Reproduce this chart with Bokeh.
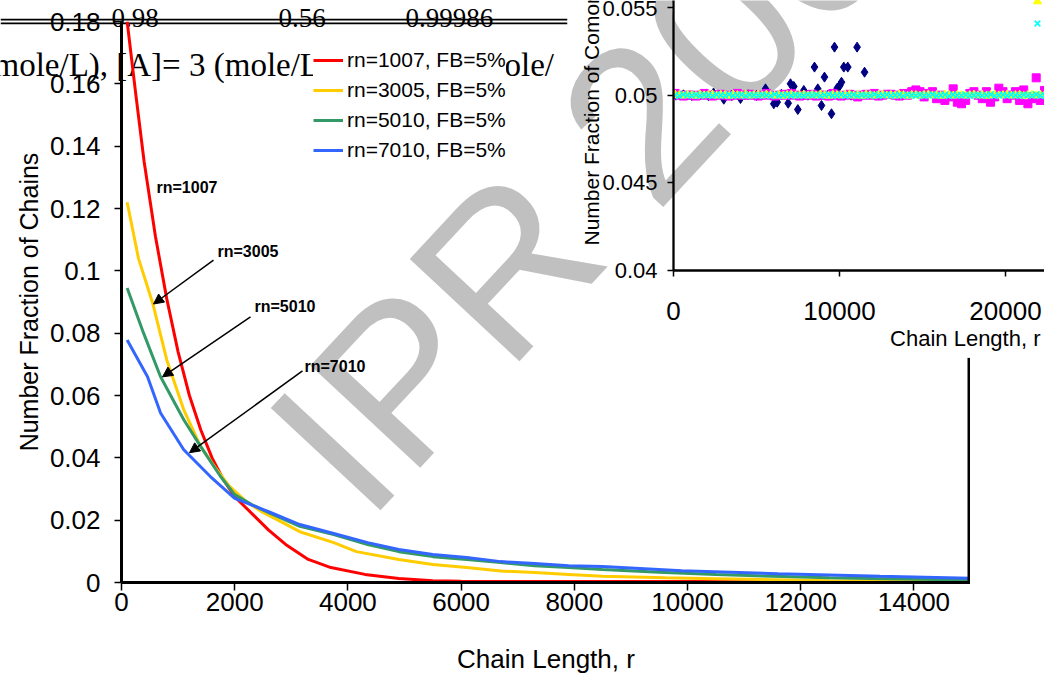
import math
from bokeh.plotting import figure
from bokeh.models import (Range1d, FixedTicker, PrintfTickFormatter, Label, Arrow,
                          NormalHead, Legend, LegendItem, BoxAnnotation)
from bokeh.layouts import column
from bokeh.embed import file_html
from bokeh.resources import INLINE

# ---------------- main chart data ----------------
red_x = [100, 250, 400, 600, 800, 1000, 1200, 1400, 1600, 1800, 2000, 2300, 2600, 2900,
         3300, 3700, 4300, 4900, 5500, 6000, 7000, 8000, 10000, 12000, 15000]
red_y = [0.180, 0.157, 0.135, 0.111, 0.091, 0.074, 0.060, 0.049, 0.040, 0.033, 0.0275,
         0.0222, 0.0168, 0.0122, 0.0074, 0.0048, 0.0026, 0.0013, 0.0006, 0.0004, 0.0003,
         0.0003, 0.0003, 0.0002, 0.0002]

yel_x = [100, 300, 550, 800, 1100, 1400, 1650, 1900, 2200, 2500, 2850, 3150, 3750, 4150,
         4900, 5500, 6100, 6700, 7300, 7900, 8500, 9600, 10500, 11500, 12500, 13500, 15000]
yel_y = [0.122, 0.104, 0.0897, 0.0714, 0.0554, 0.0436, 0.037, 0.031, 0.026, 0.0225,
         0.0192, 0.0163, 0.0128, 0.0099, 0.0074, 0.0058, 0.0048, 0.0037, 0.0032, 0.0026,
         0.0020, 0.0015, 0.0012, 0.0009, 0.0006, 0.0005, 0.0004]

grn_x = [100, 390, 690, 1100, 1400, 1750, 2000, 2300, 2600, 3150, 3750, 4350, 4900, 5500,
         6100, 6700, 7300, 7900, 8500, 9500, 10500, 11500, 12500, 13500, 15000]
grn_y = [0.0945, 0.080, 0.066, 0.0522, 0.0436, 0.034, 0.0282, 0.0250, 0.0224, 0.018,
         0.0154, 0.0122, 0.0099, 0.0083, 0.0074, 0.0064, 0.0054, 0.0048, 0.0042, 0.0033,
         0.0026, 0.0020, 0.0015, 0.0012, 0.0008]

blu_x = [100, 460, 690, 1100, 1570, 2000, 2600, 3150, 3750, 4350, 4900, 5500, 6100, 6700,
         7300, 7900, 8500, 9900, 11600, 13400, 15000]
blu_y = [0.0778, 0.066, 0.0544, 0.0426, 0.034, 0.027, 0.0227, 0.0186, 0.0157, 0.0128,
         0.0106, 0.009, 0.008, 0.0067, 0.0061, 0.0054, 0.0051, 0.0038, 0.0028, 0.0020, 0.0014]

series_labels = ["rn=1007, FB=5%", "rn=3005, FB=5%", "rn=5010, FB=5%", "rn=7010, FB=5%"]
x_ticks = [0, 2000, 4000, 6000, 8000, 10000, 12000, 14000]
y_ticks = [0, 0.02, 0.04, 0.06, 0.08, 0.1, 0.12, 0.14, 0.16, 0.18]

# ---------------- inset data ----------------
navy_x = [150, 600, 1100, 1600, 2100, 2410, 3030, 3500, 4036, 4500, 5000, 5542, 6042, 6247,
          6500, 6908, 7048, 7247, 7490, 7850, 8100, 8494, 8693, 8916, 9096, 9300, 9518, 9699,
          9861, 10020, 10120, 10260, 10500, 10700, 11060, 11510]
navy_y = [0.0500, 0.05002, 0.04998, 0.05001, 0.04997, 0.05012, 0.04977, 0.04998, 0.04981,
          0.05002, 0.04998, 0.05036, 0.04951, 0.0496, 0.05005, 0.04954, 0.05065, 0.0505,
          0.04918, 0.05027, 0.0500, 0.0516, 0.05036, 0.04941, 0.05103, 0.0500, 0.04894,
          0.05274, 0.0504, 0.05055, 0.05074, 0.0516, 0.0516, 0.0500, 0.05274, 0.05131]

band_x = list(range(100, 22400, 250))
mag_y = [0.0501, 0.0500, 0.04995, 0.0500, 0.0500, 0.04995, 0.0500, 0.0501, 0.0500, 0.04995,
         0.0500, 0.05005, 0.0500, 0.04995, 0.0500, 0.0501, 0.0500, 0.0500, 0.05005, 0.0500,
         0.04995, 0.0500, 0.0501, 0.0500, 0.04995, 0.0500, 0.05005, 0.0500, 0.0501, 0.0500,
         0.04995, 0.0500, 0.0500, 0.05005, 0.04995, 0.0500, 0.0500, 0.04995, 0.0501, 0.0500,
         0.04995, 0.0500, 0.05005, 0.0500, 0.0499, 0.0500, 0.05005, 0.0500, 0.0501, 0.04995,
         0.0500, 0.05005, 0.05005, 0.0500, 0.04995, 0.0501, 0.0500, 0.0502, 0.0503, 0.0502,
         0.0499, 0.0501, 0.0502, 0.0498, 0.0500, 0.0497, 0.0499, 0.05036, 0.0496, 0.04951,
         0.0497, 0.0501, 0.0502, 0.0500, 0.0498, 0.0502, 0.0496, 0.0499, 0.0504, 0.0502,
         0.0498, 0.0500, 0.0502, 0.0497, 0.0503, 0.04951, 0.0498, 0.05099, 0.0497, 0.05027]
yel_in_y = [0.05003, 0.05, 0.04997, 0.05002, 0.05, 0.04996, 0.05003, 0.04999, 0.05001, 0.05004,
            0.04997, 0.05002, 0.05, 0.04996, 0.05003, 0.05, 0.04998, 0.05004, 0.04997, 0.05,
            0.05002, 0.04998, 0.05003, 0.05, 0.04997, 0.05002, 0.04996, 0.05, 0.05004, 0.04998,
            0.05, 0.05003, 0.04997, 0.05001, 0.04998, 0.05004, 0.05, 0.04996, 0.05002, 0.05,
            0.04998, 0.05002, 0.05004, 0.04997, 0.05, 0.04996, 0.05003, 0.05, 0.04997, 0.05002,
            0.05003, 0.04998, 0.05, 0.04997, 0.05004, 0.05, 0.04996, 0.05002, 0.05, 0.04997,
            0.05002, 0.05004, 0.04998, 0.05, 0.04996, 0.05003, 0.05, 0.04997, 0.05002, 0.05,
            0.04997, 0.05, 0.05003, 0.04998, 0.05002, 0.04996, 0.05, 0.05003, 0.04998, 0.05,
            0.05003, 0.04997, 0.05, 0.05002, 0.04996, 0.05, 0.05003, 0.04998, 0.05002, 0.05]
cyan_y = [0.05, 0.04996, 0.05004, 0.05, 0.04998, 0.05003, 0.04997, 0.05002, 0.05, 0.04996,
          0.05003, 0.05, 0.04998, 0.05004, 0.04997, 0.05, 0.05002, 0.04996, 0.05003, 0.05,
          0.04998, 0.05002, 0.05, 0.04996, 0.05004, 0.04998, 0.05, 0.05003, 0.04997, 0.05001,
          0.05, 0.04997, 0.05003, 0.04999, 0.05002, 0.04996, 0.05, 0.05004, 0.04998, 0.05,
          0.05002, 0.04997, 0.05, 0.05003, 0.04996, 0.05001, 0.05, 0.04998, 0.05004, 0.04997,
          0.05, 0.05003, 0.04998, 0.05, 0.05002, 0.04996, 0.05003, 0.05, 0.04998, 0.05002,
          0.04997, 0.05, 0.05004, 0.04998, 0.05, 0.05002, 0.04996, 0.05003, 0.05, 0.04998,
          0.05002, 0.04997, 0.05, 0.05003, 0.04998, 0.05, 0.05004, 0.04996, 0.05, 0.05002,
          0.04998, 0.05003, 0.05, 0.04997, 0.05002, 0.05, 0.04998, 0.05004, 0.04997, 0.05]
inset_labels = ["rn=1007", "rn=3005", "rn=5010", "rn=7010"]
ix_ticks = [0, 10000, 20000]
iy_ticks = [0.04, 0.045, 0.05, 0.055]

SANS = "Liberation Sans"
SERIF = "Liberation Serif"
PAGE_W, PAGE_H = 1044, 676
LB = 121  # common left border of every layer (column aligns them)

# ---------------- page-pixel helpers (layout only) ----------------
M_L, M_R, M_T, M_B = LB, 970, 21, 583
def mx(px): return (px - M_L) / (M_R - M_L) * 15000
def my(py): return (M_B - py) / (M_B - M_T) * 0.18

I_L, I_R, I_T, I_B = 673, 1044, 0, 270
IX_END, IY_MIN, IY_MAX = 22350, 0.04, 0.0554
INSET_BOX_LEFT, INSET_BOX_BOTTOM = 567, 358


def page_layer(x0, x1, z):
    """Transparent figure whose frame covers page pixels x0..x1 (full height)."""
    f = figure(width=(x1 - x0) + LB, height=PAGE_H, output_backend="svg", toolbar_location=None,
               x_range=Range1d(x0, x1), y_range=Range1d(PAGE_H, 0),
               x_axis_location=None, y_axis_location=None,
               min_border_left=LB, min_border_right=0, min_border_top=0, min_border_bottom=0,
               background_fill_alpha=0, border_fill_alpha=0, outline_line_color=None)
    f.grid.visible = False
    f.styles = {"position": "absolute", "left": f"{x0 - LB}px", "top": "0px", "z-index": str(z)}
    return f

# ---------------- layer 0: page fragments behind the chart ----------------
g = page_layer(0, 849, 0)
for txt, px in [("0.98", 111), ("0.56", 278), ("0.99986", 405)]:
    g.add_layout(Label(x=px, y=17, text=txt, text_font=SERIF, text_font_size="27px",
                       text_color="black", text_align="left", text_baseline="alphabetic"))
for py in (19.2, 22.8):
    g.add_layout(Arrow(end=None, x_start=0, y_start=py, x_end=INSET_BOX_LEFT, y_end=py,
                       line_width=1.8, line_color="black"))
g.add_layout(Label(x=-7, y=64, text="mole/L), [A]= 3 (mole/L), [B]= 0.1 (mole/",
                   text_font=SERIF, text_font_size="33px", text_color="black",
                   text_align="left", text_baseline="alphabetic"))

# ---------------- layer 1: inset white box, watermark, inset axis titles ----------------
w = page_layer(200, 1044, 1)
w.add_layout(BoxAnnotation(left=INSET_BOX_LEFT, right=PAGE_W, top=0, bottom=INSET_BOX_BOTTOM,
                           fill_color="white", fill_alpha=1.0, line_color=None,
                           level="underlay"))
w.add_layout(Label(x=311, y=473, text="IPR 2008", angle=math.radians(47),
                   text_font=SANS, text_font_size="218px", text_color="#C0C0C0",
                   text_align="left", text_baseline="alphabetic"))
w.add_layout(Label(x=1040, y=338, text="Chain Length, r", text_font=SANS,
                   text_font_size="22px", text_color="black", text_align="right",
                   text_baseline="middle"))
w.add_layout(Label(x=591, y=245, text="Number Fraction of Comonomer B", angle=math.pi / 2,
                   text_font=SANS, text_font_size="21px", text_color="black",
                   text_align="left", text_baseline="middle"))

# ---------------- layer 2: main figure ----------------
p = figure(width=M_R, height=PAGE_H, output_backend="svg", toolbar_location=None,
           x_range=Range1d(0, 15000), y_range=Range1d(0, 0.18),
           min_border_left=LB, min_border_right=0, min_border_top=M_T,
           min_border_bottom=PAGE_H - M_B, background_fill_alpha=0,
           border_fill_alpha=0, outline_line_color=None)
p.styles = {"position": "relative", "z-index": "2"}
p.xgrid.visible = False
p.ygrid.visible = False

colors = ["#FF0000", "#FFCC00", "#339966", "#3366FF"]
rs = []
for xs, ys, c in zip([red_x, yel_x, grn_x, blu_x], [red_y, yel_y, grn_y, blu_y], colors):
    rs.append(p.line(xs, ys, line_color=c, line_width=3))

for ax in (p.xaxis[0], p.yaxis[0]):
    ax.axis_line_width = 3
    ax.axis_line_color = "black"
    ax.major_tick_in = 0
    ax.minor_tick_out = 0
    ax.minor_tick_in = 0
    ax.major_tick_line_width = 1.5
    ax.major_label_text_font = SANS
    ax.major_label_text_font_size = "26px"
    ax.major_label_text_color = "black"
    ax.axis_label_text_font = SANS
    ax.axis_label_text_font_size = "26px"
    ax.axis_label_text_font_style = "normal"
    ax.axis_label_text_color = "black"
p.xaxis[0].ticker = FixedTicker(ticks=x_ticks)
p.xaxis[0].major_tick_out = 8
p.xaxis[0].major_label_standoff = 2
p.xaxis[0].axis_label = "Chain Length, r"
p.xaxis[0].axis_label_standoff = 30
p.yaxis[0].ticker = FixedTicker(ticks=y_ticks)
p.yaxis[0].formatter = PrintfTickFormatter(format="%g")
p.yaxis[0].major_tick_out = 7
p.yaxis[0].major_label_standoff = 14
p.yaxis[0].axis_label = "Number Fraction of Chains"
p.yaxis[0].axis_label_standoff = 4
p.yaxis[0].axis_label_text_font_size = "25px"

# right border of the plot area (upper part is hidden behind the inset box)
p.add_layout(Arrow(end=None, x_start=mx(968.5), y_start=0, x_end=mx(968.5),
                   y_end=my(INSET_BOX_BOTTOM), line_width=3, line_color="black"))

for txt, px, py in [("rn=1007", 156, 187), ("rn=3005", 217, 251),
                    ("rn=5010", 254, 307), ("rn=7010", 304, 367)]:
    p.add_layout(Label(x=mx(px), y=my(py), text=txt, text_font=SANS, text_font_size="16px",
                       text_font_style="bold", text_color="black",
                       text_align="left", text_baseline="middle"))
for (sx, sy, ex, ey) in [(213, 260, 153, 304), (250, 317, 162, 377), (302, 371, 189, 453)]:
    p.add_layout(Arrow(x_start=mx(sx), y_start=my(sy), x_end=mx(ex), y_end=my(ey),
                       line_width=1.5, line_color="black",
                       end=NormalHead(size=10, fill_color="black", line_color="black")))

legend = Legend(items=[LegendItem(label=l, renderers=[r]) for l, r in zip(series_labels, rs)],
                location=(313 - M_L, M_B - 163), padding=0, margin=0, spacing=6,
                glyph_width=30, glyph_height=20, label_height=20, label_standoff=4,
                label_text_font=SANS, label_text_font_size="21px", label_text_color="black",
                background_fill_color="white", background_fill_alpha=1.0,
                border_line_color=None)
p.add_layout(legend, "center")

# ---------------- layer 3: inset figure (transparent, drawn over the watermark) ----------------
q = figure(width=PAGE_W - (I_L - LB), height=INSET_BOX_BOTTOM, output_backend="svg",
           toolbar_location=None, x_range=Range1d(0, IX_END), y_range=Range1d(IY_MIN, IY_MAX),
           min_border_left=LB, min_border_right=0, min_border_top=0,
           min_border_bottom=INSET_BOX_BOTTOM - I_B, background_fill_alpha=0,
           border_fill_alpha=0, outline_line_color=None)
q.styles = {"position": "absolute", "left": f"{I_L - LB}px", "top": "0px", "z-index": "3"}
q.xgrid.visible = False
q.ygrid.visible = False

r_n = q.scatter(navy_x, navy_y, marker="diamond", size=10, color="#000080")
r_m = q.scatter(band_x, mag_y, marker="square", size=8, color="#FF00FF")
r_y = q.scatter(band_x, yel_in_y, marker="triangle", size=8, color="#FFFF00")
r_c = q.scatter(band_x, cyan_y, marker="x", size=9, line_color="#00FFFF", line_width=1.6)

for ax in (q.xaxis[0], q.yaxis[0]):
    ax.axis_line_width = 2.3
    ax.axis_line_color = "black"
    ax.major_tick_in = 0
    ax.major_tick_out = 6
    ax.minor_tick_out = 0
    ax.minor_tick_in = 0
    ax.major_tick_line_width = 1.5
    ax.major_label_text_font = SANS
    ax.major_label_text_color = "black"
q.xaxis[0].ticker = FixedTicker(ticks=ix_ticks)
q.xaxis[0].major_label_text_font_size = "26px"
q.xaxis[0].major_label_standoff = 25
q.yaxis[0].ticker = FixedTicker(ticks=iy_ticks)
q.yaxis[0].formatter = PrintfTickFormatter(format="%g")
q.yaxis[0].major_label_text_font_size = "22px"
q.yaxis[0].major_label_standoff = 10

ileg = Legend(items=[LegendItem(label=l, renderers=[r]) for l, r in
                     zip(inset_labels, [r_n, r_m, r_y, r_c])],
              location=(1027 - I_L, I_B - 33), padding=0, margin=0, spacing=2,
              glyph_width=20, glyph_height=20, label_height=20,
              label_text_font=SANS, label_text_font_size="14px",
              background_fill_alpha=0, border_line_alpha=0)
q.add_layout(ileg, "center")

root = column(p, g, w, q)
open("out.html", "w").write(file_html(root, INLINE))
